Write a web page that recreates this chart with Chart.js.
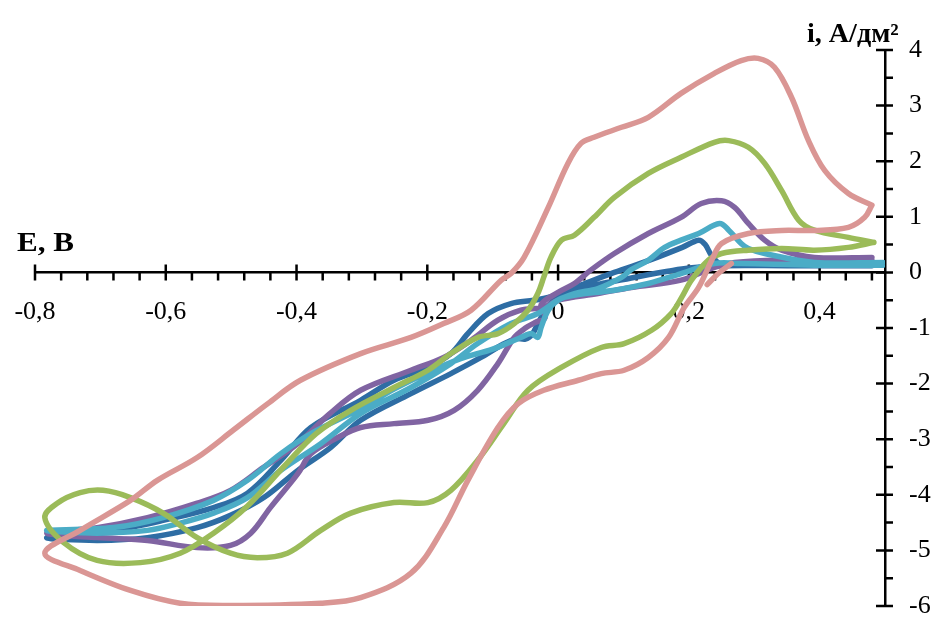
<!DOCTYPE html>
<html>
<head>
<meta charset="utf-8">
<script src="https://cdn.jsdelivr.net/npm/chart.js@4.4.1/dist/chart.umd.min.js"></script>
<style>
	html, body { margin: 0; padding: 0; background: #fff; }
	#wrap { width: 940px; height: 617px; position: relative; }
</style>
</head>
<body>
<div id="wrap"><canvas id="chart-cv"></canvas></div>
<script>
// Axis ticks
const X_TICKS = [-0.8, -0.6, -0.4, -0.2, 0, 0.2, 0.4];
const Y_TICKS = [-6, -5, -4, -3, -2, -1, 0, 1, 2, 3, 4];

// Curves: potential E (V) and current density i (A/dm2)
const pinkE = [0.480, 0.444, 0.408, 0.383, 0.357, 0.331, 0.306, 0.280, 0.239, 0.188, 0.138, 0.097, 0.055, 0.035, 0.015, -0.015, -0.052, -0.072, -0.087, -0.133, -0.175, -0.225, -0.302, -0.394, -0.444, -0.497, -0.552, -0.613, -0.654, -0.731, -0.785, -0.731, -0.654, -0.578, -0.501, -0.363, -0.302, -0.225, -0.175, -0.138, -0.092, -0.061, -0.022, 0.031, 0.066, 0.101, 0.138, 0.169, 0.193, 0.215, 0.235, 0.250, 0.291, 0.342, 0.392, 0.444, 0.469, 0.480];
const pinkI = [1.21, 1.42, 1.83, 2.37, 3.15, 3.69, 3.85, 3.81, 3.58, 3.22, 2.79, 2.61, 2.43, 2.32, 1.96, 1.17, 0.27, -0.02, -0.14, -0.68, -0.92, -1.17, -1.46, -1.94, -2.36, -2.84, -3.33, -3.74, -4.10, -4.64, -5.05, -5.36, -5.72, -5.95, -5.99, -5.95, -5.85, -5.41, -4.59, -3.74, -2.79, -2.36, -2.12, -1.94, -1.82, -1.76, -1.53, -1.17, -0.63, -0.27, 0.22, 0.52, 0.70, 0.755, 0.755, 0.81, 0.99, 1.21];
const pinkStubE = [0.228, 0.245, 0.265];
const pinkStubI = [-0.22, -0.02, 0.16];

const greenE = [0.483, 0.444, 0.392, 0.368, 0.342, 0.316, 0.291, 0.261, 0.239, 0.188, 0.138, 0.086, 0.055, 0.025, 0.005, -0.011, -0.022, -0.031, -0.046, -0.067, -0.092, -0.123, -0.164, -0.199, -0.251, -0.317, -0.370, -0.420, -0.475, -0.527, -0.578, -0.639, -0.705, -0.757, -0.785, -0.766, -0.731, -0.696, -0.654, -0.604, -0.552, -0.501, -0.460, -0.414, -0.363, -0.317, -0.251, -0.199, -0.164, -0.123, -0.083, -0.046, 0.005, 0.066, 0.101, 0.143, 0.173, 0.189, 0.204, 0.230, 0.250, 0.291, 0.342, 0.392, 0.444, 0.483];
const greenI = [0.54, 0.63, 0.76, 0.94, 1.47, 1.96, 2.25, 2.37, 2.34, 2.07, 1.78, 1.35, 0.99, 0.67, 0.58, 0.27, -0.09, -0.38, -0.68, -0.92, -1.10, -1.17, -1.46, -1.76, -2.07, -2.48, -2.90, -3.50, -4.20, -4.69, -5.05, -5.22, -5.18, -4.85, -4.41, -4.15, -3.96, -3.92, -4.05, -4.33, -4.77, -5.05, -5.13, -5.05, -4.64, -4.33, -4.14, -4.14, -3.92, -3.38, -2.72, -2.12, -1.71, -1.35, -1.28, -1.04, -0.74, -0.45, -0.14, 0.22, 0.34, 0.40, 0.43, 0.40, 0.45, 0.54];

const purpleE = [0.480, 0.392, 0.342, 0.316, 0.291, 0.270, 0.250, 0.219, 0.188, 0.138, 0.086, 0.050, 0.025, 0.000, -0.026, -0.020, -0.035, -0.050, -0.067, -0.092, -0.123, -0.159, -0.199, -0.251, -0.302, -0.337, -0.378, -0.398, -0.440, -0.470, -0.501, -0.552, -0.628, -0.705, -0.782, -0.705, -0.628, -0.552, -0.501, -0.451, -0.398, -0.350, -0.302, -0.225, -0.175, -0.133, -0.092, -0.057, -0.022, 0.000, 0.061, 0.112, 0.188, 0.239, 0.270, 0.342, 0.480];
const purpleI = [0.27, 0.27, 0.40, 0.58, 0.88, 1.17, 1.29, 1.24, 0.99, 0.70, 0.34, 0.04, -0.20, -0.36, -0.58, -0.82, -0.90, -1.00, -1.17, -1.64, -2.12, -2.48, -2.66, -2.72, -2.79, -2.97, -3.26, -3.62, -4.23, -4.69, -4.91, -4.95, -4.82, -4.77, -4.69, -4.59, -4.41, -4.15, -3.92, -3.51, -3.08, -2.55, -2.12, -1.76, -1.53, -1.22, -0.86, -0.68, -0.63, -0.50, -0.38, -0.27, -0.14, 0.09, 0.18, 0.22, 0.22];

const tealE = [0.497, 0.392, 0.316, 0.291, 0.280, 0.261, 0.247, 0.215, 0.188, 0.163, 0.138, 0.112, 0.097, 0.061, 0.025, 0.000, -0.015, -0.026, -0.031, -0.041, -0.057, -0.100, -0.149, -0.199, -0.251, -0.302, -0.378, -0.424, -0.475, -0.527, -0.604, -0.680, -0.782, -0.705, -0.628, -0.578, -0.527, -0.475, -0.424, -0.363, -0.302, -0.225, -0.164, -0.123, -0.072, -0.031, 0.009, 0.086, 0.138, 0.188, 0.239, 0.280, 0.392, 0.497];
const tealI = [0.18, 0.18, 0.34, 0.43, 0.52, 0.76, 0.88, 0.70, 0.58, 0.45, 0.22, 0.05, -0.09, -0.29, -0.38, -0.50, -0.68, -0.99, -1.17, -1.10, -1.17, -1.38, -1.55, -1.80, -2.10, -2.45, -2.90, -3.26, -3.74, -4.10, -4.41, -4.59, -4.64, -4.69, -4.64, -4.51, -4.33, -4.05, -3.56, -3.08, -2.54, -2.07, -1.64, -1.28, -0.92, -0.74, -0.45, -0.32, -0.20, -0.02, 0.16, 0.16, 0.13, 0.13];

const blueE = [0.480, 0.350, 0.250, 0.235, 0.225, 0.215, 0.190, 0.140, 0.086, 0.030, -0.015, -0.037, -0.072, -0.107, -0.138, -0.164, -0.199, -0.251, -0.302, -0.378, -0.424, -0.475, -0.527, -0.604, -0.680, -0.782, -0.705, -0.628, -0.552, -0.501, -0.450, -0.398, -0.348, -0.302, -0.225, -0.164, -0.118, -0.087, -0.064, -0.050, -0.040, -0.030, -0.015, 0.000, 0.050, 0.112, 0.168, 0.200, 0.250, 0.350, 0.480];
const blueI = [0.12, 0.13, 0.15, 0.30, 0.50, 0.58, 0.45, 0.22, 0.00, -0.25, -0.45, -0.50, -0.56, -0.74, -1.10, -1.46, -1.71, -1.94, -2.30, -2.79, -3.38, -3.97, -4.23, -4.46, -4.64, -4.77, -4.82, -4.77, -4.59, -4.37, -4.05, -3.56, -3.15, -2.66, -2.18, -1.82, -1.53, -1.31, -1.19, -1.20, -1.12, -0.90, -0.60, -0.45, -0.25, -0.10, 0.02, 0.08, 0.12, 0.12, 0.12];

const COLORS = {
	pink: "#DA9694",
	green: "#9BBB59",
	purple: "#8064A2",
	teal: "#4BACC6",
	blue: "#2E6DA4",
};

const toPoints = (e, i) => e.map((v, k) => ({ x: v, y: i[k] }));

const curve = (label, e, i, color) => ({
	label: label,
	data: toPoints(e, i),
	showLine: true,
	borderColor: color,
	backgroundColor: color,
	borderWidth: 5.5,
	borderCapStyle: "round",
	borderJoinStyle: "round",
	tension: 0.35,
	pointRadius: 0,
	fill: false,
});

// first dataset is drawn on top
const CHART_DATA = {
	datasets: [
		curve("pink", pinkE, pinkI, COLORS.pink),
		curve("pink start", pinkStubE, pinkStubI, COLORS.pink),
		curve("green", greenE, greenI, COLORS.green),
		curve("teal", tealE, tealI, COLORS.teal),
		curve("purple", purpleE, purpleI, COLORS.purple),
		curve("blue", blueE, blueI, COLORS.blue),
	],
};

const fmt = (v) => {
	if (Math.abs(v) < 1e-9) return "0";
	return (Math.round(v * 10) / 10).toString().replace(".", ",");
};

const TICK_FONT = { family: "'Liberation Serif', 'Times New Roman', serif", size: 26 };
const TITLE_FONT = "bold 27px 'Liberation Serif', 'Times New Roman', serif";

// draws text a bit wider than the font, like the stretched original
const wideText = (ctx, text, x, y, sx) => {
	ctx.save();
	ctx.translate(x, y);
	ctx.scale(sx, 1);
	ctx.fillText(text, 0, 0);
	ctx.restore();
};

// tick marks (major ones cross the axis, minor ones stick out) and axis titles
const axisDecor = {
	id: "axisDecor",
	beforeDatasetsDraw(chart) {
		const { ctx, scales: { x, y } } = chart;
		const y0 = y.getPixelForValue(0);
		const xr = x.getPixelForValue(0.5);
		ctx.save();
		ctx.strokeStyle = "#000";
		ctx.lineWidth = 2.5;
		ctx.beginPath();
		for (let k = 0; k <= 32; k++) {
			const px = x.getPixelForValue(-0.8 + k * 0.04);
			const major = k % 5 === 0;
			ctx.moveTo(px, major ? y0 - 8 : y0);
			ctx.lineTo(px, y0 + 8);
		}
		for (let k = 0; k <= 20; k++) {
			const py = y.getPixelForValue(-6 + k * 0.5);
			const major = k % 2 === 0;
			ctx.moveTo(major ? xr - 9 : xr, py);
			ctx.lineTo(xr + 8, py);
		}
		ctx.stroke();
		ctx.restore();
	},
	afterDraw(chart) {
		const { ctx } = chart;
		ctx.save();
		ctx.fillStyle = "#000";
		ctx.textBaseline = "alphabetic";
		ctx.textAlign = "left";
		ctx.font = TITLE_FONT;
		wideText(ctx, "E, В", 17, 251, 1.15);
		wideText(ctx, "i, А/дм²", 807, 42, 1.04);
		ctx.restore();
	},
};

const CHART_CONFIG = {
	type: "scatter",
	data: CHART_DATA,
	options: {
		responsive: true,
		maintainAspectRatio: false,
		animation: false,
		layout: {
			padding: { left: 35, top: 50, right: 0, bottom: 11 },
		},
		scales: {
			x: {
				type: "linear",
				min: -0.8,
				max: 0.5,
				position: { y: 0 },
				grid: { display: false, drawTicks: false },
				border: { display: true, color: "#000", width: 2.5 },
				afterBuildTicks: (scale) => {
					scale.ticks = X_TICKS.map((v) => ({ value: v }));
				},
				afterFit: (scale) => {
					scale.paddingLeft = 0;
					scale.paddingRight = 0;
				},
				ticks: {
					color: "#000",
					font: TICK_FONT,
					padding: 24,
					maxRotation: 0,
					autoSkip: false,
					callback: (v) => fmt(v),
				},
			},
			y: {
				type: "linear",
				min: -6,
				max: 4,
				position: "right",
				grid: { display: false, drawTicks: false },
				border: { display: true, color: "#000", width: 2.5 },
				afterBuildTicks: (scale) => {
					scale.ticks = Y_TICKS.map((v) => ({ value: v }));
				},
				afterFit: (scale) => {
					scale.width = 55;
					scale.paddingTop = 0;
					scale.paddingBottom = 0;
				},
				ticks: {
					color: "#000",
					font: TICK_FONT,
					padding: 24,
					autoSkip: false,
					callback: (v) => fmt(v),
				},
			},
		},
		plugins: {
			legend: { display: false },
			tooltip: { enabled: false },
		},
	},
	plugins: [axisDecor],
};

const CHART_WRAPPER = document.getElementById("chart-cv");
if (CHART_WRAPPER) {
	new Chart(CHART_WRAPPER, CHART_CONFIG);
}
</script>
</body>
</html>
